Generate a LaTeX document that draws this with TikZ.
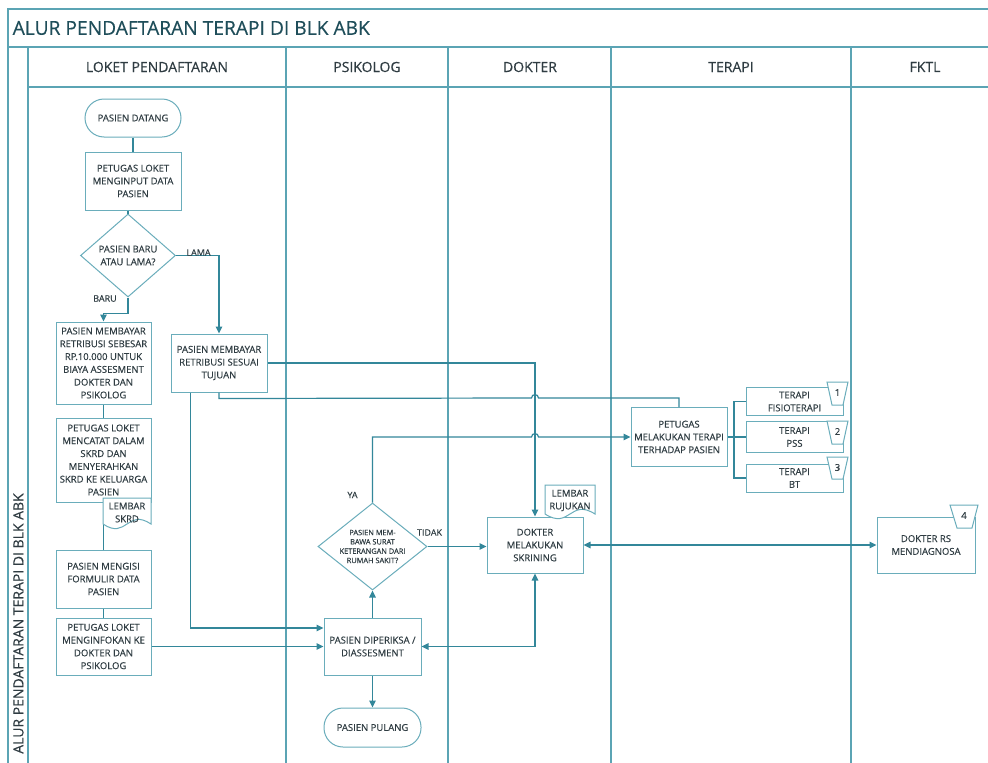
\documentclass[tikz,border=0pt]{standalone}
\usepackage{fontspec}
\setmainfont{Open Sans}[FakeBold=0.3]
\usetikzlibrary{arrows.meta,shapes.geometric,calc}
\definecolor{framec}{HTML}{5BA4B4}
\definecolor{linec}{HTML}{33879A}
\definecolor{boxc}{HTML}{6AADBB}
\definecolor{txtc}{HTML}{2F3C42}
\definecolor{titlec}{HTML}{1F4E5A}
\tikzset{
  frame/.style={draw=framec, line width=1.3pt},
  box/.style={draw=boxc, line width=1pt, fill=white, rectangle, inner sep=0pt, align=center, text=txtc, font=\fontsize{9.5}{12.8}\selectfont, minimum width=96pt},
  term/.style={box, rounded corners=19pt},
  dia/.style={box, diamond},
  shp/.style={draw=boxc, line width=1pt, fill=white},
  conn/.style={draw=linec, line width=1.2pt},
  arr/.style={conn, -{Triangle[length=7pt,width=6.5pt]}},
  darr/.style={conn, {Triangle[length=7pt,width=6.5pt]}-{Triangle[length=7pt,width=6.5pt]}},
  lbl/.style={text=txtc, font=\fontsize{9}{11}\selectfont, inner sep=0pt},
  doctext/.style={text=txtc, font=\fontsize{9.5}{12.8}\selectfont, inner sep=0pt, align=center},
  hdr/.style={text=txtc, font=\fontsize{14}{16}\selectfont, inner sep=0pt},
}
\begin{document}
\begin{tikzpicture}[x=1pt,y=-1pt]
\useasboundingbox (0,0) rectangle (988,763);
\fill[white] (0,0) rectangle (988,763);
% frame
\draw[frame] (8,763) -- (8,9) -- (988,9);
\draw[frame] (8,47) -- (988,47);
\draw[frame] (28,87) -- (988,87);
\foreach \x in {28,286,448,611,851} \draw[frame] (\x,47) -- (\x,763);
\node[text=titlec, font=\fontsize{19.2}{22}\selectfont, inner sep=0pt, anchor=west] (title) at (12.5,28) {ALUR PENDAFTARAN TERAPI DI BLK ABK};
\node[hdr] (h1) at (157,67) {LOKET PENDAFTARAN};
\node[hdr] (h2) at (367,67) {PSIKOLOG};
\node[hdr] (h3) at (530,67) {DOKTER};
\node[hdr] (h4) at (731,67) {TERAPI};
\node[hdr] (h5) at (925,67) {FKTL};
\node[hdr, rotate=90] (vtitle) at (18.5,623.5) {ALUR PENDAFTARAN TERAPI DI BLK ABK};
% nodes
\node[term, minimum height=38pt] (datang) at (133,118) {PASIEN DATANG};
\node[box, minimum height=58pt] (input) at (133,181) {PETUGAS LOKET\\MENGINPUT DATA\\PASIEN};
\node[dia, aspect=1.145, minimum width=95pt, minimum height=83pt] (baru) at (128,255.5) {PASIEN BARU\\ATAU LAMA?};
\node[box, minimum width=95pt, minimum height=82pt] (bayar1) at (103.5,363) {PASIEN MEMBAYAR\\RETRIBUSI SEBESAR\\RP.10.000 UNTUK\\BIAYA ASSESMENT\\DOKTER DAN\\PSIKOLOG};
\node[box, minimum width=95pt, minimum height=84pt] (catat) at (103.5,460) {PETUGAS LOKET\\MENCATAT DALAM\\SKRD DAN\\MENYERAHKAN\\SKRD KE KELUARGA\\PASIEN};
\node[box, minimum width=95pt, minimum height=58pt] (isi) at (103.5,579) {PASIEN MENGISI\\FORMULIR DATA\\PASIEN};
\node[box, minimum width=95pt, minimum height=57pt] (info) at (103.5,646.5) {PETUGAS LOKET\\MENGINFOKAN KE\\DOKTER DAN\\PSIKOLOG};
\node[box, minimum height=58pt] (bayar2) at (219,363) {PASIEN MEMBAYAR\\RETRIBUSI SESUAI\\TUJUAN};
\node[box, minimum width=97pt, minimum height=57pt] (periksa) at (372.5,646.5) {PASIEN DIPERIKSA /\\DIASSESMENT};
\node[term, minimum width=97pt, minimum height=39pt] (pulang) at (372.5,727.5) {PASIEN PULANG};
\node[dia, aspect=1.25, minimum width=109pt, minimum height=87pt, font=\fontsize{7.4}{9.3}\selectfont] (surat) at (372.5,546.5) {PASIEN MEM-\\BAWA SURAT\\KETERANGAN DARI\\RUMAH SAKIT?};
\node[box, minimum height=56pt] (skrining) at (535,545) {DOKTER\\MELAKUKAN\\SKRINING};
\node[box, minimum height=59pt] (petugas) at (679,437) {PETUGAS\\MELAKUKAN TERAPI\\TERHADAP PASIEN};
\node[box, minimum width=97pt, minimum height=28pt] (t1) at (794.5,401.5) {TERAPI\\FISIOTERAPI};
\node[box, minimum width=97pt, minimum height=31pt] (t2) at (794.5,437) {TERAPI\\PSS};
\node[box, minimum width=97pt, minimum height=28pt] (t3) at (794.5,478) {TERAPI\\BT};
\node[box, minimum width=98pt, minimum height=56pt] (dokrs) at (926,545) {DOKTER RS\\MENDIAGNOSA};
% connectors
\draw[conn] (datang) -- (input);
\draw[conn] (baru.north |- input.south) -- (baru.north);
\draw[arr] (baru.south) -- ++(0,16) -| (bayar1.north);
\draw[arr] (baru.east) -| (bayar2.north);
\node[lbl] (lama) at (198.5,252.5) {LAMA};
\node[lbl] (lbaru) at (105,298.5) {BARU};
\draw[conn] (bayar1) -- (catat);
\draw[conn] (catat) -- (isi);
\draw[conn] (isi) -- (info);
\draw[arr] (info.east) -- (info.east -| periksa.west);
\draw[arr] ([xshift=20pt]bayar2.south west) |- ([yshift=18.5pt]periksa.west);
\draw[arr] (bayar2.east) -| (skrining.north);
\draw[conn] (bayar2.south) -- ++(0,6) coordinate (b2a) -- (531.5,398)
  .. controls (531.5,393.5) and (538.5,393.5) .. (538.5,398) -| (petugas.north);
\draw[arr] (surat.north) -- (372.5,437) -- (531.5,437)
  .. controls (531.5,432.5) and (538.5,432.5) .. (538.5,437) -- (petugas.west);
\node[lbl] (ya) at (352.5,495) {YA};
\draw[arr] (surat.east) -- (surat.east -| skrining.west);
\node[lbl] (tidak) at (429.5,532.5) {TIDAK};
\draw[arr] (periksa.north) -- (surat.south);
\draw[arr] (periksa.south) -- (pulang.north);
\draw[darr] (skrining.south) |- (periksa.east);
\draw[darr] (skrining.east) -- (dokrs.west);
\coordinate (br) at (734,437);
\draw[conn] (petugas.east) -- (br) -- (t2.west);
\draw[conn] (t1.west) -| (br);
\draw[conn] (t3.west) -| (br);
% documents
\path[shp] (103,498) -- (151,498) -- (151,524) .. controls (127,508) and (127,540) .. (103,524) -- cycle;
\node[doctext] (skrd) at (127,512.5) {LEMBAR\\SKRD};
\path[shp] (545,485) -- (595,485) -- (595,514) .. controls (570,498) and (570,530) .. (545,514) -- cycle;
\node[doctext] (rujukan) at (570,500.5) {LEMBAR\\RUJUKAN};
% manual operation tags
\path[shp] (827,382) -- (848,382) -- (843,405) -- (832,405) -- cycle;
\node[doctext] (n1) at (837.5,392.5) {1};
\path[shp] (827,421) -- (848,421) -- (843,444) -- (832,444) -- cycle;
\node[doctext] (n2) at (837.5,431.5) {2};
\path[shp] (827,457) -- (848,457) -- (843,479) -- (832,479) -- cycle;
\node[doctext] (n3) at (837.5,467.5) {3};
\path[shp] (950,505) -- (978,505) -- (972,528) -- (957,528) -- cycle;
\node[doctext] (n4) at (964,515.5) {4};
\end{tikzpicture}
\end{document}
